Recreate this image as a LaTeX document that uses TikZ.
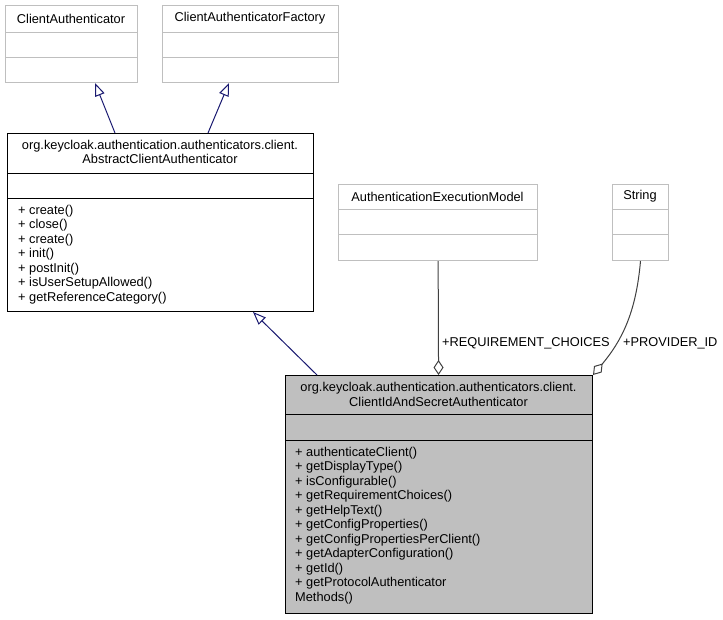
\documentclass[tikz,border=0pt]{standalone}
\usepackage{fontspec}
\setmainfont{Liberation Sans}
\usepackage{xcolor}
\usetikzlibrary{arrows.meta}

\definecolor{boxgray}{HTML}{BFBFBF}
\definecolor{focusgray}{HTML}{BFBFBF}
\definecolor{navyedge}{HTML}{191970}
\definecolor{edgegray}{HTML}{404040}
\newcommand{\umlfont}{\fontsize{12.8}{14.5}\selectfont}

\begin{document}
\begin{tikzpicture}[x=1pt, y=-1pt,
    classbox/.style={rectangle, draw=black, fill=white, line width=1pt, anchor=north west, inner sep=0pt},
    extbox/.style={classbox, draw=boxgray},
    focusbox/.style={classbox, fill=focusgray},
    sepline/.style={line width=1pt, draw=black},
    extsep/.style={line width=1pt, draw=boxgray},
    title/.style={align=center, font=\umlfont, inner sep=0pt},
    members/.style={align=left, anchor=north west, font=\umlfont, inner sep=0pt},
    role/.style={anchor=west, font=\umlfont, inner sep=0pt},
    inherit/.style={draw=navyedge, line width=1pt, -{Triangle[open, length=13pt, width=10pt]}},
    aggr/.style={draw=edgegray, line width=1pt, -{Diamond[open, length=15pt, width=10pt]}}
]
\useasboundingbox (0,0) rectangle (723,619);

% Interfaces - top row
\node[extbox, minimum width=132pt, minimum height=77pt] (ca) at (5,5) {};
\draw[extsep] (ca.west |- 0,32) -- (ca.east |- 0,32);
\draw[extsep] (ca.west |- 0,57) -- (ca.east |- 0,57);
\node[title] (ca-name) at (71,18.5) {ClientAuthenticator};

\node[extbox, minimum width=176pt, minimum height=77pt] (caf) at (162,5) {};
\draw[extsep] (caf.west |- 0,32) -- (caf.east |- 0,32);
\draw[extsep] (caf.west |- 0,57) -- (caf.east |- 0,57);
\node[title] (caf-name) at (250,18.5) {ClientAuthenticatorFactory};

% Abstract base class
\node[classbox, minimum width=306pt, minimum height=178pt] (abs) at (7,133) {};
\draw[sepline] (abs.west |- 0,173) -- (abs.east |- 0,173);
\draw[sepline] (abs.west |- 0,198) -- (abs.east |- 0,198);
\node[title] (abs-name) at (160,152) {org.keycloak.authentication.authenticators.client.\\AbstractClientAuthenticator};
\node[members] (abs-ops) at (18,205) {+ create()\\+ close()\\+ create()\\+ init()\\+ postInit()\\+ isUserSetupAllowed()\\+ getReferenceCategory()};

% Member types
\node[extbox, minimum width=199pt, minimum height=76pt] (aem) at (338,184) {};
\draw[extsep] (aem.west |- 0,209) -- (aem.east |- 0,209);
\draw[extsep] (aem.west |- 0,234) -- (aem.east |- 0,234);
\node[title] (aem-name) at (437.5,196.5) {AuthenticationExecutionModel};

\node[extbox, minimum width=56pt, minimum height=76pt] (str) at (612,184) {};
\draw[extsep] (str.west |- 0,209) -- (str.east |- 0,209);
\draw[extsep] (str.west |- 0,234) -- (str.east |- 0,234);
\node[title] (str-name) at (640,196.5) {String};

% Documented class
\node[focusbox, minimum width=307pt, minimum height=238pt] (cis) at (285,375) {};
\draw[sepline] (cis.west |- 0,414) -- (cis.east |- 0,414);
\draw[sepline] (cis.west |- 0,440) -- (cis.east |- 0,440);
\node[title] (cis-name) at (438.5,394.5) {org.keycloak.authentication.authenticators.client.\\ClientIdAndSecretAuthenticator};
\node[members] (cis-ops) at (295,447) {+ authenticateClient()\\+ getDisplayType()\\+ isConfigurable()\\+ getRequirementChoices()\\+ getHelpText()\\+ getConfigProperties()\\+ getConfigPropertiesPerClient()\\+ getAdapterConfiguration()\\+ getId()\\+ getProtocolAuthenticator\\Methods()};

% Inheritance
\draw[inherit] (abs.north -| 115,0) -- (ca.south -| 95,0);
\draw[inherit] (abs.north -| 208,0) -- (caf.south -| 229,0);
\draw[inherit] (cis.north -| 317,0) -- (abs.south -| 253,0);

% Aggregation
\draw[aggr] (aem) -- (cis);
\node[role] (req-label) at (442,343) {+REQUIREMENT\_CHOICES};
\draw[aggr] (str.south) to[out=-95, in=50] (cis.north east);
\node[role] (pid-label) at (623,343) {+PROVIDER\_ID};

\end{tikzpicture}
\end{document}
